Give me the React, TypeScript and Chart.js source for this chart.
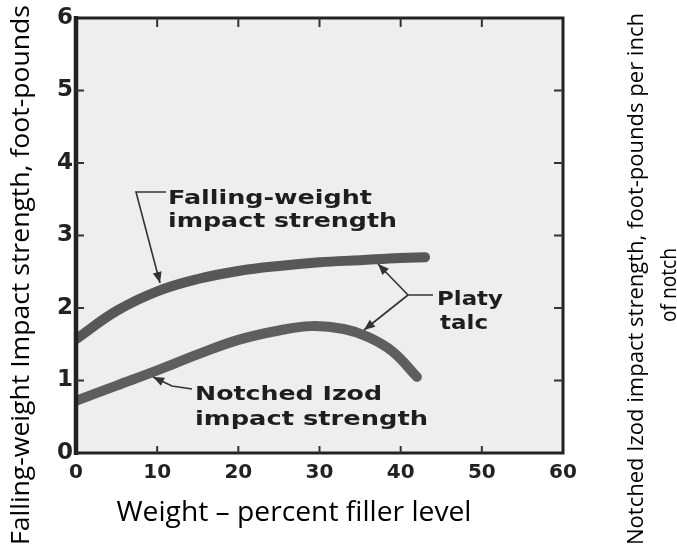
import React, { useEffect, useRef } from "react";
import { Chart, registerables } from "chart.js";

Chart.register(...registerables);

const xTickValues = [0, 10, 20, 30, 40, 50, 60];
const yTickValues = [0, 1, 2, 3, 4, 5, 6];

const fallingX = [0, 5, 10, 15, 20, 25, 30, 35, 40, 43];
const fallingY = [1.57, 1.96, 2.23, 2.4, 2.51, 2.58, 2.63, 2.66, 2.69, 2.7];

const izodX = [0, 5, 10, 15, 20, 25, 29, 33, 36, 39, 42];
const izodY = [0.72, 0.93, 1.14, 1.36, 1.56, 1.69, 1.75, 1.71, 1.6, 1.4, 1.05];

const xTitle = "Weight – percent filler level";
const yTitle = "Falling-weight Impact strength, foot-pounds";
const y2Title1 = "Notched Izod impact strength, foot-pounds per inch";
const y2Title2 = "of notch";

const TITLE_FONT = "'Open Sans'";

function fitText(ctx: CanvasRenderingContext2D, text: string, x: number, y: number, width: number, font: string, align: "left" | "center" = "left") {
  ctx.save();
  ctx.font = font;
  const w = ctx.measureText(text).width;
  const s = width / w;
  ctx.translate(x, y);
  ctx.scale(s, 1);
  ctx.textAlign = align;
  ctx.textBaseline = "alphabetic";
  ctx.fillText(text, 0, 0);
  ctx.restore();
}

function arrow(ctx: CanvasRenderingContext2D, pts: number[][]) {
  ctx.save();
  ctx.strokeStyle = "#333";
  ctx.fillStyle = "#333";
  ctx.lineWidth = 1.6;
  ctx.beginPath();
  ctx.moveTo(pts[0][0], pts[0][1]);
  for (let i = 1; i < pts.length; i++) ctx.lineTo(pts[i][0], pts[i][1]);
  ctx.stroke();
  const [x1, y1] = pts[pts.length - 2];
  const [x2, y2] = pts[pts.length - 1];
  const a = Math.atan2(y2 - y1, x2 - x1);
  const L = 11, W = 4.5;
  ctx.beginPath();
  ctx.moveTo(x2, y2);
  ctx.lineTo(x2 - L * Math.cos(a) + W * Math.sin(a), y2 - L * Math.sin(a) - W * Math.cos(a));
  ctx.lineTo(x2 - L * Math.cos(a) - W * Math.sin(a), y2 - L * Math.sin(a) + W * Math.cos(a));
  ctx.closePath();
  ctx.fill();
  ctx.restore();
}

const decorPlugin = {
  id: "decor",
  beforeDraw(chart: any) {
    const { ctx, chartArea: a } = chart;
    ctx.save();
    ctx.fillStyle = "#ffffff";
    ctx.fillRect(0, 0, chart.width, chart.height);
    ctx.fillStyle = "#eeeeee";
    ctx.fillRect(a.left, a.top, a.right - a.left, a.bottom - a.top);
    ctx.restore();
  },
  afterDraw(chart: any) {
    const { ctx, chartArea: a } = chart;
    const xs = chart.scales.x;
    const ys = chart.scales.y;
    ctx.save();
    ctx.strokeStyle = "#222";
    ctx.lineWidth = 3;
    ctx.strokeRect(a.left, a.top, a.right - a.left, a.bottom - a.top);
    ctx.lineWidth = 4.5;
    ctx.beginPath();
    ctx.moveTo(a.left, a.top - 2);
    ctx.lineTo(a.left, a.bottom + 2);
    ctx.stroke();
    ctx.lineWidth = 2;
    ctx.strokeStyle = "#333";
    ctx.beginPath();
    for (const v of yTickValues) {
      if (v === 0 || v === 6) continue;
      const py = ys.getPixelForValue(v);
      ctx.moveTo(a.left, py);
      ctx.lineTo(a.left + 8, py);
      ctx.moveTo(a.right, py);
      ctx.lineTo(a.right - 9, py);
    }
    for (const v of xTickValues) {
      if (v === 0 || v === 60) continue;
      const px = xs.getPixelForValue(v);
      ctx.moveTo(px, a.top);
      ctx.lineTo(px, a.top + 9);
      ctx.moveTo(px, a.bottom);
      ctx.lineTo(px, a.bottom - 7);
    }
    ctx.stroke();

    ctx.fillStyle = "#1e1e1e";
    const af = "bold 20px 'DejaVu Sans'";
    fitText(ctx, "Falling-weight", 168, 204, 204, af);
    fitText(ctx, "impact strength", 168, 227, 229, af);
    fitText(ctx, "Platy", 437, 305, 66, af);
    fitText(ctx, "talc", 440, 329, 48, af);
    fitText(ctx, "Notched Izod", 195, 400, 187, af);
    fitText(ctx, "impact strength", 195, 425, 233, af);

    arrow(ctx, [[166, 192], [136, 192], [160, 283]]);
    arrow(ctx, [[433, 295], [408, 295], [378, 264]]);
    arrow(ctx, [[408, 295], [364, 330]]);
    arrow(ctx, [[192, 389], [172, 386], [153, 377]]);

    ctx.fillStyle = "#000";
    fitText(ctx, xTitle, 294, 521, 355, "28px " + TITLE_FONT, "center");

    ctx.save();
    ctx.translate(29, 275);
    ctx.rotate(-Math.PI / 2);
    fitText(ctx, yTitle, 0, 0, 540, "26px " + TITLE_FONT, "center");
    ctx.restore();

    ctx.save();
    ctx.translate(643, 279);
    ctx.rotate(-Math.PI / 2);
    fitText(ctx, y2Title1, 0, 0, 532, "22px " + TITLE_FONT, "center");
    ctx.restore();

    ctx.save();
    ctx.translate(676, 285);
    ctx.rotate(-Math.PI / 2);
    fitText(ctx, y2Title2, 0, 0, 74, "22px " + TITLE_FONT, "center");
    ctx.restore();

    ctx.restore();
  },
};

export default function App() {
  const ref = useRef<HTMLCanvasElement | null>(null);
  useEffect(() => {
    if (!ref.current) return;
    const chart = new Chart(ref.current, {
      type: "line",
      data: {
        datasets: [
          {
            label: "Falling-weight impact strength",
            data: fallingX.map((x, i) => ({ x, y: fallingY[i] })),
            borderColor: "#575757",
            borderWidth: 10,
            pointRadius: 0,
            tension: 0.4,
            borderCapStyle: "round",
          },
          {
            label: "Notched Izod impact strength",
            data: izodX.map((x, i) => ({ x, y: izodY[i] })),
            borderColor: "#5e5e5e",
            borderWidth: 10,
            pointRadius: 0,
            tension: 0.4,
            borderCapStyle: "round",
          },
        ],
      },
      options: {
        responsive: false,
        animation: false,
        layout: { padding: { top: 18, right: 114, left: 0, bottom: 0 } },
        plugins: { legend: { display: false }, tooltip: { enabled: false } },
        scales: {
          x: {
            type: "linear",
            min: 0,
            max: 60,
            afterBuildTicks: (s: any) => {
              s.ticks = xTickValues.map((v) => ({ value: v }));
            },
            afterFit: (s: any) => {
              s.height = 97;
            },
            grid: { display: false, drawTicks: false },
            border: { display: false },
            ticks: {
              padding: 8,
              color: "#222",
              font: { family: "DejaVu Sans", size: 20, weight: "bold" },
              maxRotation: 0,
            },
          },
          y: {
            type: "linear",
            min: 0,
            max: 6,
            afterBuildTicks: (s: any) => {
              s.ticks = yTickValues.map((v) => ({ value: v }));
            },
            afterFit: (s: any) => {
              s.width = 76;
            },
            grid: { display: false, drawTicks: false },
            border: { display: false },
            ticks: {
              padding: 3,
              color: "#222",
              font: { family: "DejaVu Sans", size: 23, weight: "bold" },
            },
          },
        },
      },
      plugins: [decorPlugin],
    } as any);
    return () => chart.destroy();
  }, []);
  return (
    <div style={{ position: "fixed", left: 0, top: 0, width: 677, height: 550, background: "#fff" }}>
      <canvas ref={ref} width={677} height={550} style={{ width: 677, height: 550, display: "block" }} />
    </div>
  );
}
